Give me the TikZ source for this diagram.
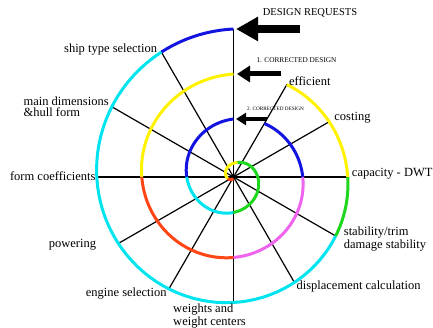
\documentclass[tikz,border=0pt]{standalone}
\usepackage{fontspec}
\setmainfont{Liberation Serif}
\usepackage{tikz}
\usepackage{xcolor}
\usetikzlibrary{positioning}
\usetikzlibrary{arrows.meta}
\definecolor{sblue}{RGB}{20, 20, 225}
\definecolor{scyan}{RGB}{0, 228, 240}
\definecolor{syellow}{RGB}{255, 242, 0}
\definecolor{sgreen}{RGB}{30, 215, 30}
\definecolor{sred}{RGB}{255, 70, 20}
\definecolor{smagenta}{RGB}{238, 100, 238}
\tikzstyle{coil} = [
	line width=3pt,
	line cap=butt
]
\tikzstyle{spoke} = [
	line width=1.2pt,
	black
]
\tikzstyle{stage} = [
	font=\fontsize{12.5}{11}\selectfont,
	inner sep=0pt,
	align=left
]
\tikzstyle{request} = [
	line width=8pt,
	-{Triangle[length=22pt, width=23pt]},
	shorten >=2.5pt
]
\tikzstyle{fixone} = [
	line width=5pt,
	-{Triangle[length=13pt, width=16pt]},
	shorten >=3.5pt
]
\tikzstyle{fixtwo} = [
	line width=4pt,
	-{Triangle[length=10pt, width=12pt]},
	shorten >=2.5pt
]

\begin{document}
\begin{tikzpicture}[x=1pt, y=1pt, node distance=0pt and 0pt,
	declare function={spr(\t)=ifthenelse(\t<1155, 148-0.125*(\t-90), 14.875-0.075*(\t-1155));}]
	\useasboundingbox (0,0) rectangle (433,328);
	\coordinate (o) at (233.5,151);
	
	%
	% Spokes
	\begin{scope}[shift={(o)}]
	\foreach \t in {90,120,...,420} {
		\coordinate (p\t) at (\t:{spr(\t)});
		\draw[spoke] (o) -- (p\t);
	}
	\coordinate (p450) at (450:{spr(450)});
	\coordinate (p810) at (810:{spr(810)});
	
	%
	% Spiral, outer turn
	\draw[coil, sblue] plot[domain=90:120, samples=12] (\x:{spr(\x)});
	\draw[coil, scyan] plot[domain=120:330, samples=60] (\x:{spr(\x)});
	\draw[coil, sgreen] plot[domain=330:360, samples=12] (\x:{spr(\x)});
	\draw[coil, syellow] plot[domain=360:420, samples=20] (\x:{spr(\x)});
	
	%
	% Spiral, middle turn
	\draw[coil, syellow] plot[domain=450:540, samples=25] (\x:{spr(\x)});
	\draw[coil, sred] plot[domain=540:630, samples=25] (\x:{spr(\x)});
	\draw[coil, smagenta] plot[domain=630:720, samples=25] (\x:{spr(\x)});
	\draw[coil, sblue] plot[domain=720:780, samples=20] (\x:{spr(\x)});
	
	%
	% Spiral, inner turn
	\draw[coil, sblue] plot[domain=810:900, samples=25] (\x:{spr(\x)});
	\draw[coil, scyan] plot[domain=900:990, samples=25] (\x:{spr(\x)});
	\draw[coil, sgreen] plot[domain=990:1155, samples=40] (\x:{spr(\x)});
	\draw[coil, syellow] plot[domain=1155:1275, samples=30] (\x:{spr(\x)});
	\draw[coil, sred] plot[domain=1275:1335, samples=15] (\x:{spr(\x)});
	\end{scope}
	
	%
	% Stages
	\node[stage, left=4pt of p120, yshift=3pt] (ship) {ship type selection};
	\node[stage, left=3pt of p150] (hull) {main dimensions\\\&hull form};
	\node[stage, left=1pt of p180, yshift=1pt] (form) {form coefficients};
	\node[stage, left=22pt of p210, yshift=-1.5pt] (power) {powering};
	\node[stage, left=2pt of p240, yshift=-5pt] (engine) {engine selection};
	\node[stage, below=1.5pt of p270, xshift=-24pt] (weight) {weights and\\weight centers};
	\node[stage, right=2pt of p300, yshift=-4.5pt] (displ) {displacement calculation};
	\node[stage, right=8pt of p330, yshift=-3pt] (stab) {stability/trim\\damage stability};
	\node[stage, right=4pt of p360, yshift=3pt] (dwt) {capacity - DWT};
	\node[stage, right=5pt of p390, yshift=4pt] (cost) {costing};
	\node[stage, right=2pt of p420, yshift=3.5pt] (eff) {efficient};
	
	%
	% Requests and corrections
	\coordinate (req) at (300,299);
	\draw[request] (req) -- (p90);
	\node[stage, font=\fontsize{10.5}{10}\selectfont, above=12pt of req, xshift=10pt] (reqtxt) {DESIGN REQUESTS};
	
	\coordinate (fix1) at (281,254);
	\draw[fixone] (fix1) -- (p450);
	\node[stage, font=\fontsize{7.3}{8}\selectfont, above=11pt of fix1, xshift=15.5pt] (fix1txt) {1. CORRECTED DESIGN};
	
	\coordinate (fix2) at (267,209);
	\draw[fixtwo] (fix2) -- (p810);
	\node[stage, font=\fontsize{5.2}{6}\selectfont, above=8pt of fix2, xshift=8.5pt] (fix2txt) {2. CORRECTED DESIGN};
	
\end{tikzpicture}
\end{document}
